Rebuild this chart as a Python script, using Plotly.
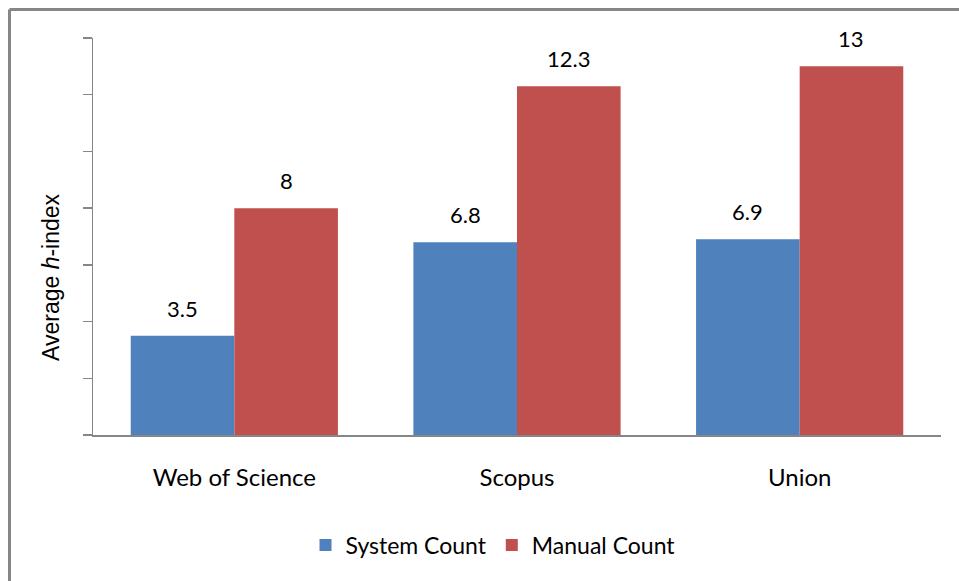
import plotly.graph_objects as go

categories = ["Web of Science", "Scopus", "Union"]
system_count = [3.5, 6.8, 6.9]
manual_count = [8, 12.3, 13]
series_names = ["System Count", "Manual Count"]
y_ticks = [0, 2, 4, 6, 8, 10, 12, 14]

BLUE = "#4F81BD"
RED = "#C0504D"
GRID = "#868686"
FONT = "Lato"

x_idx = list(range(len(categories)))
bargap = 0.267
half = (1 - bargap) / 4  # center offset of each bar in a group

fig = go.Figure()
fig.add_trace(go.Bar(x=x_idx, y=system_count, name=series_names[0],
                     marker=dict(color=BLUE, line=dict(width=0))))
fig.add_trace(go.Bar(x=x_idx, y=manual_count, name=series_names[1],
                     marker=dict(color=RED, line=dict(width=0))))

W, H = 959, 581
L, T = 93, 38
PW, PH = 848, 397
R, B = W - L - PW, H - T - PH

def px_x(sx):
    return (sx - L) / PW

def px_y(sy):
    return (T + PH - sy) / PH

annotations = []
for i, v in enumerate(system_count):
    annotations.append(dict(x=i - half, y=v, text=f"{v:g}", xref="x", yref="y",
                            showarrow=False, yanchor="bottom", yshift=12,
                            font=dict(family=FONT, size=22, color="black")))
for i, v in enumerate(manual_count):
    annotations.append(dict(x=i + half, y=v, text=f"{v:g}", xref="x", yref="y",
                            showarrow=False, yanchor="bottom", yshift=12,
                            font=dict(family=FONT, size=22, color="black")))
annotations.append(dict(x=px_x(51), y=px_y(277), xref="paper", yref="paper",
                        text="Average <i>h</i>-index", textangle=-90,
                        showarrow=False, xanchor="center", yanchor="middle",
                        font=dict(family="Liberation Sans", size=23, color="black")))

bx = px_x(9.5)
by = px_y(9.5)

fig.update_layout(
    width=W, height=H,
    margin=dict(l=L, r=R, t=T, b=B),
    paper_bgcolor="white", plot_bgcolor="white",
    barmode="group", bargap=bargap, bargroupgap=0,
    showlegend=True,
    hovermode=False,
    legend=dict(orientation="h", x=px_x(493), y=px_y(545), xanchor="center", yanchor="middle",
                font=dict(family=FONT, size=23, color="black"),
                itemsizing="constant", traceorder="normal"),
    xaxis=dict(tickmode="array", tickvals=x_idx, ticktext=categories,
               range=[-0.5, len(categories) - 0.5],
               showline=True, linecolor=GRID, linewidth=2, showgrid=False,
               zeroline=False, ticks="", ticklabelstandoff=20,
               tickfont=dict(family=FONT, size=24, color="black")),
    yaxis=dict(range=[0, 14], tickmode="array", tickvals=y_ticks, showticklabels=False,
               ticks="outside", ticklen=9, tickcolor=GRID, tickwidth=1.5,
               showline=True, linecolor=GRID, linewidth=1.5, showgrid=False, zeroline=False),
    annotations=annotations,
    shapes=[
        dict(type="line", xref="paper", yref="paper", x0=bx, x1=bx, y0=-1, y1=by,
             line=dict(color=GRID, width=3)),
        dict(type="line", xref="paper", yref="paper", x0=bx, x1=1.2, y0=by, y1=by,
             line=dict(color=GRID, width=3)),
    ],
)

page_css = ("document.documentElement.style.margin='0';"
            "document.documentElement.style.overflow='hidden';"
            "document.body.style.margin='0';"
            "document.body.style.overflow='hidden';")

fig.write_html("out.html", post_script=page_css,
               config={"displayModeBar": False, "staticPlot": True})
